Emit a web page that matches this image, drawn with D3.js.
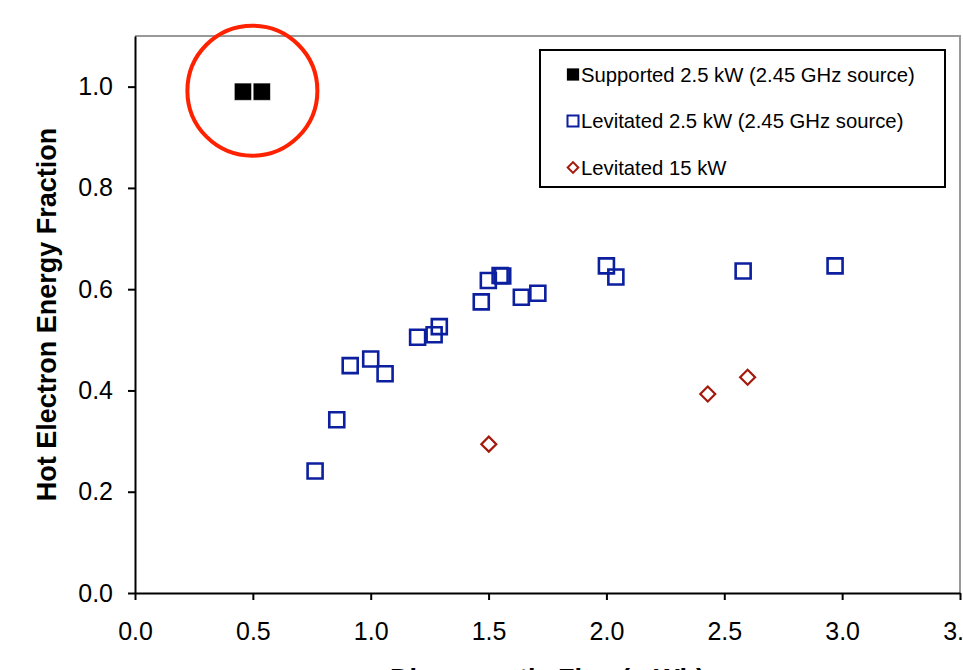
<!DOCTYPE html>
<html>
<head>
<meta charset="utf-8">
<script src="https://cdn.jsdelivr.net/npm/d3@7"></script>
<style>
  body { margin: 0; background: #fff; }
  text { font-family: "Liberation Sans", Arial, Helvetica, sans-serif; }
</style>
</head>
<body>
<svg id="chart"></svg>
<script>
// Supported 2.5 kW (2.45 GHz source)
const supportedX = [0.458, 0.538];
const supportedY = [0.99, 0.99];

// Levitated 2.5 kW (2.45 GHz source)
const levit25X = [0.764, 0.856, 0.913, 1.000, 1.061, 1.199, 1.269, 1.291, 1.469, 1.499, 1.549, 1.560, 1.639, 1.709, 2.000, 2.040, 2.580, 2.970];
const levit25Y = [0.241, 0.342, 0.449, 0.462, 0.433, 0.505, 0.510, 0.526, 0.575, 0.617, 0.627, 0.626, 0.584, 0.592, 0.646, 0.624, 0.636, 0.646];

// Levitated 15 kW
const levit15X = [1.501, 2.430, 2.599];
const levit15Y = [0.294, 0.393, 0.426];

const xTicks = [0, 0.5, 1.0, 1.5, 2.0, 2.5, 3.0, 3.5];
const yTicks = [0, 0.2, 0.4, 0.6, 0.8, 1.0];
const legendLabels = ["Supported 2.5 kW (2.45 GHz source)", "Levitated 2.5 kW (2.45 GHz source)", "Levitated 15 kW"];

const width = 963, height = 670;
const plotLeft = 135, plotRight = 960, plotTop = 36, plotBottom = 593;

const svg = d3.select("#chart")
              .attr("width", width)
              .attr("height", height);

const xScale = d3.scaleLinear().domain([0, 3.5]).range([plotLeft, plotRight]);
const yScale = d3.scaleLinear().domain([0, 1.1]).range([plotBottom, plotTop]);

// gray frame top / right
svg.append("path")
   .attr("d", `M${plotLeft},${plotTop}H${plotRight}V${plotBottom}`)
   .attr("fill", "none")
   .attr("stroke", "#999")
   .attr("stroke-width", 2);

const xAxis = svg.append("g")
   .attr("transform", `translate(0,${plotBottom})`)
   .call(d3.axisBottom(xScale).tickValues(xTicks).tickFormat(d3.format(".1f"))
           .tickSize(7).tickSizeOuter(0).tickPadding(22));

const yAxis = svg.append("g")
   .attr("transform", `translate(${plotLeft},0)`)
   .call(d3.axisLeft(yScale).tickValues(yTicks).tickFormat(d3.format(".1f"))
           .tickSize(7).tickSizeOuter(0).tickPadding(15));

[xAxis, yAxis].forEach(ax => {
    ax.select(".domain").attr("stroke", "#000").attr("stroke-width", 2);
    ax.selectAll(".tick line").attr("stroke", "#000").attr("stroke-width", 2);
    ax.selectAll(".tick text")
      .attr("fill", "#000")
      .style("font-size", "25px")
      .style("font-family", "Liberation Sans, Arial, sans-serif");
});

// axis titles
svg.append("text")
   .attr("transform", `translate(56,${(plotTop + plotBottom) / 2}) rotate(-90)`)
   .attr("text-anchor", "middle")
   .style("font-size", "27px")
   .style("font-weight", "bold")
   .text("Hot Electron Energy Fraction");

// x title is cut by the bottom edge, as in the source image
svg.append("text")
   .attr("x", (plotLeft + plotRight) / 2)
   .attr("y", 688)
   .attr("text-anchor", "middle")
   .style("font-size", "27px")
   .style("font-weight", "bold")
   .text("Diamagnetic Flux (mWb)");

const blue = "#0b1f9f", red = "#a31a0c";

// levitated 2.5 kW, open blue squares
svg.selectAll("path.lev25")
   .data(levit25X)
   .enter()
   .append("path")
   .attr("class", "lev25")
   .attr("d", d3.symbol().type(d3.symbolSquare).size(225)())
   .attr("transform", (d, i) => `translate(${xScale(d)},${yScale(levit25Y[i])})`)
   .attr("fill", "none")
   .attr("stroke", blue)
   .attr("stroke-width", 2.6);

// levitated 15 kW, open red diamonds
svg.selectAll("path.lev15")
   .data(levit15X)
   .enter()
   .append("path")
   .attr("class", "lev15")
   .attr("d", d3.symbol().type(d3.symbolSquare).size(112)())
   .attr("transform", (d, i) => `translate(${xScale(d)},${yScale(levit15Y[i])}) rotate(45)`)
   .attr("fill", "none")
   .attr("stroke", red)
   .attr("stroke-width", 2.2);

// supported, filled black squares
svg.selectAll("path.sup")
   .data(supportedX)
   .enter()
   .append("path")
   .attr("class", "sup")
   .attr("d", d3.symbol().type(d3.symbolSquare).size(300)())
   .attr("transform", (d, i) => `translate(${xScale(d)},${yScale(supportedY[i])})`)
   .attr("fill", "#000")
   .attr("stroke", "#fff")
   .attr("stroke-width", 0.6);

// red highlight circle around supported points
svg.append("circle")
   .attr("cx", xScale(d3.mean(supportedX)))
   .attr("cy", yScale(d3.mean(supportedY)) - 1)
   .attr("r", 65)
   .attr("fill", "none")
   .attr("stroke", "#ff2200")
   .attr("stroke-width", 4);

// legend
const legend = svg.append("g");
legend.append("rect")
      .attr("x", 540)
      .attr("y", 50)
      .attr("width", 405)
      .attr("height", 137)
      .attr("fill", "#fff")
      .attr("stroke", "#000")
      .attr("stroke-width", 2);

const rowY = [74.5, 121, 167.5];
const legendSyms = [
    { size: 150, fill: "#000", stroke: "none", rot: 0, sw: 0 },
    { size: 121, fill: "none", stroke: blue, rot: 0, sw: 2 },
    { size: 56, fill: "none", stroke: red, rot: 45, sw: 2 }
];

legend.selectAll("path")
      .data(legendSyms)
      .enter()
      .append("path")
      .attr("d", d => d3.symbol().type(d3.symbolSquare).size(d.size)())
      .attr("transform", (d, i) => `translate(573,${rowY[i]}) rotate(${d.rot})`)
      .attr("fill", d => d.fill)
      .attr("stroke", d => d.stroke)
      .attr("stroke-width", d => d.sw);

legend.selectAll("text")
      .data(legendLabels)
      .enter()
      .append("text")
      .attr("x", 581)
      .attr("y", (d, i) => rowY[i])
      .attr("dy", "0.35em")
      .style("font-size", "20.3px")
      .attr("fill", "#000")
      .text(d => d);
</script>
</body>
</html>
